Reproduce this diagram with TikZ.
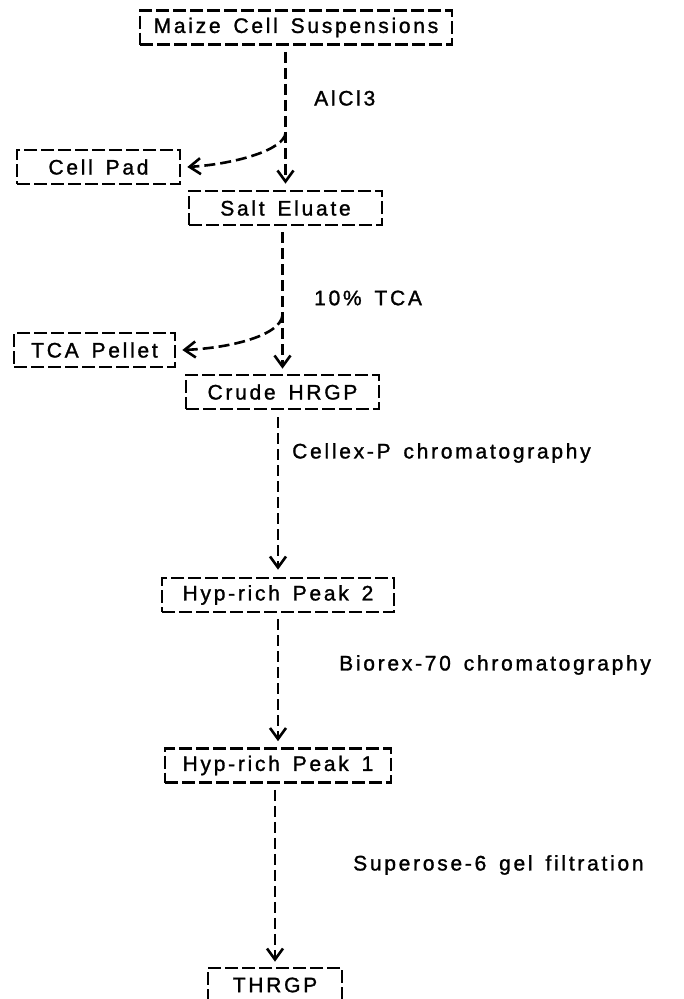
\documentclass[tikz,border=0pt]{standalone}
\usepackage{fontspec}
\setmainfont{Liberation Sans}[LetterSpace=13, WordSpace=1.5, FakeBold=1.3]
\usepackage{tikz}
\usetikzlibrary{arrows.meta}

\begin{document}
\begin{tikzpicture}[
    x=1pt, y=-1pt,
    box/.style={rectangle, draw=black, line width=2.6pt, dash pattern=on 13pt off 4pt,
                minimum height=34pt, inner sep=0pt, font=\fontsize{21}{24}\selectfont},
    lbl/.style={anchor=west, inner sep=0pt, font=\fontsize{21}{24}\selectfont},
    arr/.style={-{Straight Barb[length=11pt,width=16pt]}, line width=2.6pt,
                dash pattern=on 11pt off 5pt}
]
\useasboundingbox (0,0) rectangle (683,999);

\node[box, minimum width=312pt] (maize)     at (296,27.5) {Maize Cell Suspensions};
\node[box, minimum width=163pt] (cellpad)   at (98.5,167) {Cell Pad};
\node[box, minimum width=193pt] (salt)      at (285.5,208) {Salt Eluate};
\node[box, minimum width=161pt] (tcapellet) at (94.5,350) {TCA Pellet};
\node[box, minimum width=193pt] (crude)     at (282.5,392) {Crude HRGP};
\node[box, minimum width=232pt] (peak2)     at (278,595) {Hyp-rich Peak 2};
\node[box, minimum width=226pt] (peak1)     at (278,765.5) {Hyp-rich Peak 1};
\node[box, minimum width=134pt] (thrgp)     at (275,985) {THRGP};

% step labels
\node[lbl] (alcl)     at (314,98)  {AlCl3};
\node[lbl] (tca)      at (314,298) {10\% TCA};
\node[lbl] (cellex)   at (292,453) {Cellex-P chromatography};
\node[lbl] (biorex)   at (339,665) {Biorex-70 chromatography};
\node[lbl] (superose) at (353,865) {Superose-6 gel filtration};

\coordinate (fork1) at (285.5,133);
\coordinate (fork2) at (282.5,315);

\draw[arr] ([yshift=-6pt]maize.south -| salt.north) -- ([yshift=6pt]salt.north);
\draw[arr] (fork1) .. controls (284,150) and (235,164) .. ([xshift=6pt]cellpad.east);
\draw[arr] ([yshift=-6pt]salt.south -| crude.north) -- ([yshift=5pt]crude.north);
\draw[arr] (fork2) .. controls (281,335) and (232,348) .. ([xshift=6pt]tcapellet.east);
\draw[arr] ([yshift=-7pt]crude.south -| peak2.north) -- ([yshift=7pt]peak2.north);
\draw[arr] ([yshift=-6pt]peak2.south -| peak1.north) -- ([yshift=6pt]peak1.north);
\draw[arr] ([yshift=-6pt]peak1.south -| thrgp.north) -- ([yshift=5pt]thrgp.north);
\end{tikzpicture}
\end{document}
